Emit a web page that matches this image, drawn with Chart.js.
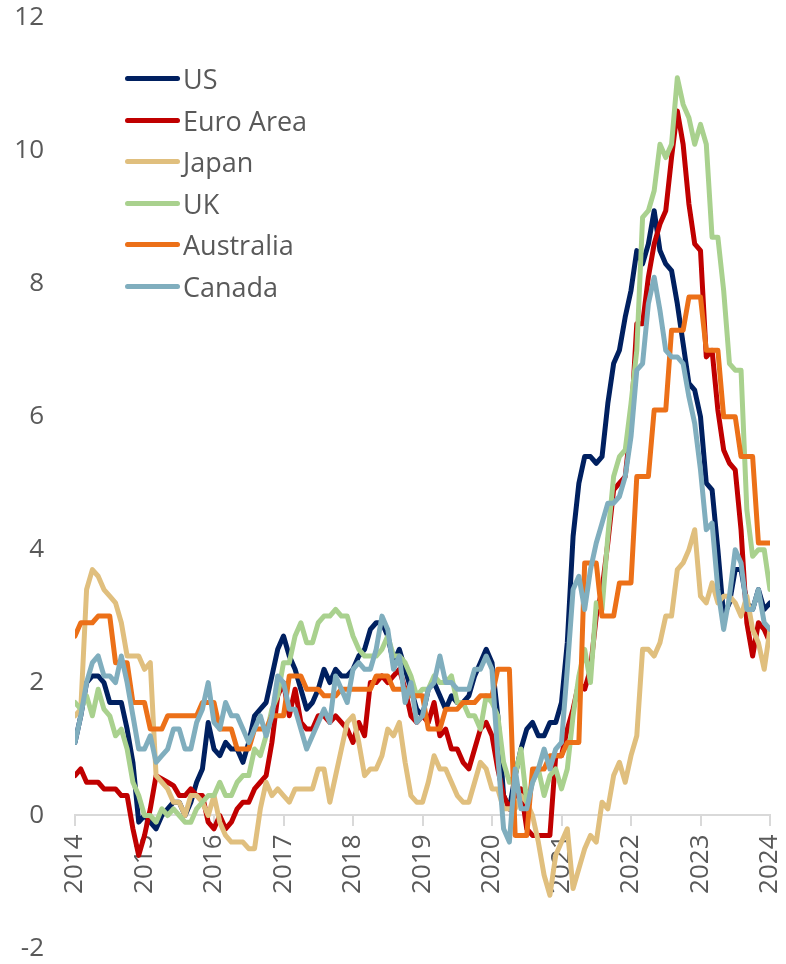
<!DOCTYPE html>
<html>
<head>
<meta charset="utf-8">
<script src="https://cdn.jsdelivr.net/npm/chart.js@4.4.1/dist/chart.umd.min.js"></script>
<style>
  html, body { margin: 0; padding: 0; background: #fff; }
  #wrap { position: relative; width: 786px; height: 964px; }
  #chart { position: absolute; left: 0; top: 0; }
  .lg-item { position: absolute; left: 125px; height: 41.5px; display: flex; align-items: center;
             font-family: 'Open Sans', sans-serif; font-size: 27px; color: #595959; white-space: nowrap; }
  .lg-line { width: 55px; height: 5px; border-radius: 2.5px; margin-right: 3px; }
</style>
</head>
<body>
<div id="wrap">
  <canvas id="chart" width="786" height="964"></canvas>
  <div id="legend"></div>
</div>
<script>
// monthly y/y CPI, Feb 2014 .. Feb 2024 (121 points), x = month index
const yearLabels = ['2014','2015','2016','2017','2018','2019','2020','2021','2022','2023','2024'];

const usCpi = [
  1.1,1.5,2.0,2.1,2.1,2.0,1.7,1.7,1.7,1.3,0.8,
  -0.1,0.0,-0.1,-0.2,0.0,0.1,0.2,0.2,0.0,0.2,0.5,0.7,
  1.4,1.0,0.9,1.1,1.0,1.0,0.8,1.1,1.5,1.6,1.7,2.1,
  2.5,2.7,2.4,2.2,1.9,1.6,1.7,1.9,2.2,2.0,2.2,2.1,
  2.1,2.2,2.4,2.5,2.8,2.9,2.9,2.7,2.3,2.5,2.2,1.9,
  1.6,1.5,1.9,2.0,1.8,1.6,1.8,1.7,1.7,1.8,2.1,2.3,
  2.5,2.3,1.5,0.3,0.1,0.6,1.0,1.3,1.4,1.2,1.2,1.4,
  1.4,1.7,2.6,4.2,5.0,5.4,5.4,5.3,5.4,6.2,6.8,7.0,
  7.5,7.9,8.5,8.3,8.6,9.1,8.5,8.3,8.2,7.7,7.1,6.5,
  6.4,6.0,5.0,4.9,4.0,3.0,3.2,3.7,3.7,3.2,3.1,3.4,
  3.1,3.2
];
const euroCpi = [
  0.6,0.7,0.5,0.5,0.5,0.4,0.4,0.4,0.3,0.3,-0.2,
  -0.6,-0.3,0.1,0.6,0.55,0.5,0.45,0.3,0.3,0.4,0.3,0.3,
  -0.1,-0.2,0.0,-0.2,-0.1,0.1,0.2,0.2,0.4,0.5,0.6,1.1,
  1.8,2.0,1.5,1.9,1.4,1.3,1.3,1.5,1.5,1.4,1.5,1.4,
  1.3,1.1,1.4,1.2,2.0,2.0,2.1,2.0,2.1,2.2,1.9,1.5,
  1.4,1.5,1.4,1.7,1.2,1.3,1.0,1.0,0.8,0.7,1.0,1.3,
  1.4,1.2,0.7,0.3,0.1,0.3,0.4,-0.2,-0.3,-0.3,-0.3,-0.3,
  0.9,0.9,1.3,1.6,2.0,1.9,2.2,3.0,3.4,4.1,4.9,5.0,
  5.1,5.9,7.4,7.4,8.1,8.6,8.9,9.1,9.9,10.6,10.1,9.2,
  8.6,8.5,6.9,7.0,6.1,5.5,5.3,5.2,4.3,2.9,2.4,2.9,
  2.8,2.6
];
const japanCpi = [
  1.5,1.6,3.4,3.7,3.6,3.4,3.3,3.2,2.9,2.4,2.4,
  2.4,2.2,2.3,0.6,0.5,0.4,0.2,0.2,0.0,0.3,0.3,0.2,
  0.0,0.3,-0.1,-0.3,-0.4,-0.4,-0.4,-0.5,-0.5,0.1,0.5,0.3,
  0.4,0.3,0.2,0.4,0.4,0.4,0.4,0.7,0.7,0.2,0.6,1.0,
  1.4,1.5,1.1,0.6,0.7,0.7,0.9,1.3,1.2,1.4,0.8,0.3,
  0.2,0.2,0.5,0.9,0.7,0.7,0.5,0.3,0.2,0.2,0.5,0.8,
  0.7,0.4,0.4,0.1,0.1,0.1,0.3,0.2,0.0,-0.4,-0.9,-1.2,
  -0.6,-0.4,-0.2,-1.1,-0.8,-0.5,-0.3,-0.4,0.2,0.1,0.6,0.8,
  0.5,0.9,1.2,2.5,2.5,2.4,2.6,3.0,3.0,3.7,3.8,4.0,
  4.3,3.3,3.2,3.5,3.2,3.3,3.3,3.2,3.0,3.3,2.8,2.6,
  2.2,2.8
];
const ukCpi = [
  1.7,1.6,1.8,1.5,1.9,1.6,1.5,1.2,1.3,1.0,0.5,
  0.3,0.0,0.0,-0.1,0.1,0.0,0.1,0.0,-0.1,-0.1,0.1,0.2,
  0.3,0.3,0.5,0.3,0.3,0.5,0.6,0.6,1.0,0.9,1.2,1.6,
  1.8,2.3,2.3,2.7,2.9,2.6,2.6,2.9,3.0,3.0,3.1,3.0,
  3.0,2.7,2.5,2.4,2.4,2.4,2.5,2.7,2.4,2.4,2.3,2.1,
  1.8,1.9,1.9,2.1,2.0,2.0,2.1,1.7,1.7,1.5,1.5,1.3,
  1.8,1.7,1.5,0.8,0.5,0.6,1.0,0.2,0.5,0.7,0.3,0.6,
  0.7,0.4,0.7,1.5,2.1,2.5,2.0,3.2,3.1,4.2,5.1,5.4,
  5.5,6.2,7.0,9.0,9.1,9.4,10.1,9.9,10.1,11.1,10.7,10.5,
  10.1,10.4,10.1,8.7,8.7,7.9,6.8,6.7,6.7,4.6,3.9,4.0,
  4.0,3.4
];
// quarterly print held for three months
const australiaCpi = [
  2.7,2.9,2.9,2.9,3.0,3.0,3.0,2.3,2.3,2.3,1.7,
  1.7,1.7,1.3,1.3,1.3,1.5,1.5,1.5,1.5,1.5,1.5,1.7,
  1.7,1.7,1.3,1.3,1.3,1.0,1.0,1.0,1.3,1.3,1.3,1.5,
  1.5,1.5,2.1,2.1,2.1,1.9,1.9,1.9,1.8,1.8,1.8,1.9,
  1.9,1.9,1.9,1.9,1.9,2.1,2.1,2.1,1.9,1.9,1.9,1.8,
  1.8,1.8,1.3,1.3,1.3,1.6,1.6,1.6,1.7,1.7,1.7,1.8,
  1.8,1.8,2.2,2.2,2.2,-0.3,-0.3,-0.3,0.7,0.7,0.7,0.9,
  0.9,0.9,1.1,1.1,1.1,3.8,3.8,3.8,3.0,3.0,3.0,3.5,
  3.5,3.5,5.1,5.1,5.1,6.1,6.1,6.1,7.3,7.3,7.3,7.8,
  7.8,7.8,7.0,7.0,7.0,6.0,6.0,6.0,5.4,5.4,5.4,4.1,
  4.1,4.1
];
const canadaCpi = [
  1.1,1.5,2.0,2.3,2.4,2.1,2.1,2.0,2.4,2.0,1.5,
  1.0,1.0,1.2,0.8,0.9,1.0,1.3,1.3,1.0,1.0,1.4,1.6,
  2.0,1.4,1.3,1.7,1.5,1.5,1.3,1.1,1.3,1.5,1.2,1.5,
  2.1,2.0,1.6,1.6,1.3,1.0,1.2,1.4,1.6,1.4,2.1,1.9,
  1.7,2.2,2.3,2.2,2.2,2.5,3.0,2.8,2.2,2.4,1.7,2.0,
  1.4,1.5,1.9,2.0,2.4,2.0,2.0,1.9,1.9,1.9,2.2,2.2,
  2.4,2.2,0.9,-0.2,-0.4,0.7,0.1,0.1,0.5,0.7,1.0,0.7,
  1.0,1.1,2.2,3.4,3.6,3.1,3.7,4.1,4.4,4.7,4.7,4.8,
  5.1,5.7,6.7,6.8,7.7,8.1,7.6,7.0,6.9,6.9,6.8,6.3,
  5.9,5.2,4.3,4.4,3.4,2.8,3.3,4.0,3.8,3.1,3.1,3.4,
  2.9,2.8
];

const seriesNames = ['US', 'Euro Area', 'Japan', 'UK', 'Australia', 'Canada'];
const seriesValues = [usCpi, euroCpi, japanCpi, ukCpi, australiaCpi, canadaCpi];
const seriesColors = ['#002060', '#C00000', '#E0BF7E', '#A9D18E', '#EC7018', '#80AEBE'];

seriesValues.forEach(function(arr, k) {
  if (arr.length !== 121) throw new Error(seriesNames[k] + ' has ' + arr.length + ' points');
});

const tickFont = { family: 'Open Sans', size: 26 };

const datasets = seriesValues.map(function(vals, k) {
  return {
    label: seriesNames[k],
    data: vals.map(function(v, i) { return { x: i, y: v }; }),
    borderColor: seriesColors[k],
    backgroundColor: seriesColors[k],
    borderWidth: 5,
    pointRadius: 0,
    tension: 0,
    fill: false,
    borderJoinStyle: 'round',
    borderCapStyle: 'round',
    order: seriesNames.length - k   // later series on top, like the original
  };
});

new Chart(document.getElementById('chart').getContext('2d'), {
  type: 'line',
  data: { datasets: datasets },
  options: {
    responsive: false,
    animation: false,
    layout: { padding: { top: 18, right: 16, bottom: 15, left: 0 } },
    plugins: { legend: { display: false }, tooltip: { enabled: false } },
    scales: {
      x: {
        type: 'linear',
        min: 0, max: 120,
        position: { y: 0 },
        // axis sits on y=0, keep it out of the layout
        afterFit: function(s) { s.height = 0; s.paddingLeft = 0; s.paddingRight = 0; },
        ticks: {
          stepSize: 12, autoSkip: false, minRotation: 90, maxRotation: 90, padding: 9,
          color: '#595959', font: tickFont,
          callback: function(v) { return yearLabels[v / 12]; }
        },
        grid: { drawOnChartArea: false, drawTicks: true, tickLength: 10, color: '#d9d9d9', lineWidth: 2 },
        border: { display: true, color: '#d9d9d9', width: 2 }
      },
      y: {
        min: -2, max: 12,
        afterFit: function(s) { s.width = 75; },
        ticks: { stepSize: 2, padding: 0, color: '#595959', font: tickFont },
        // invisible tick marks just push the labels away from the plot
        grid: { display: false, drawTicks: true, tickLength: 31 },
        border: { display: false }
      }
    }
  }
});

// legend
const lg = document.getElementById('legend');
seriesNames.forEach(function(name, k) {
  const item = document.createElement('div');
  item.className = 'lg-item';
  item.style.top = (58 + k * 41.5) + 'px';
  const line = document.createElement('div');
  line.className = 'lg-line';
  line.style.background = seriesColors[k];
  const txt = document.createElement('span');
  txt.textContent = name;
  item.appendChild(line);
  item.appendChild(txt);
  lg.appendChild(item);
});
</script>
</body>
</html>
